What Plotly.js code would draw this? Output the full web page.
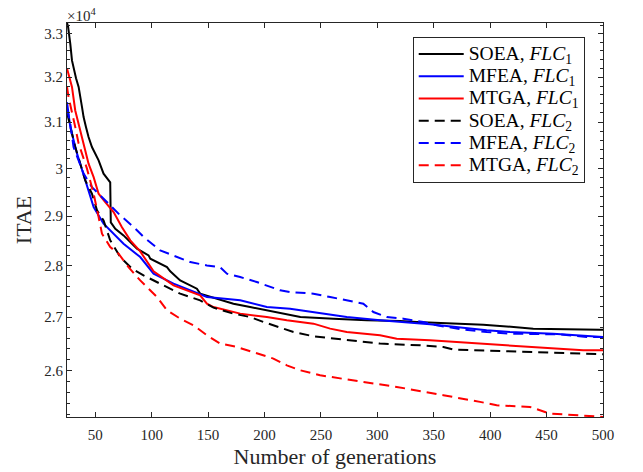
<!DOCTYPE html>
<html>
<head>
<meta charset="utf-8">
<script src="https://cdn.plot.ly/plotly-3.0.1.min.js"></script>
<style>html,body{margin:0;padding:0;background:#fff;}#chart{width:643px;height:472px;}</style>
</head>
<body>
<div id="chart"></div>
<script>
// ---- data ----
const seriesNames = ['SOEA, <i>FLC</i><sub>1</sub>', 'MFEA, <i>FLC</i><sub>1</sub>', 'MTGA, <i>FLC</i><sub>1</sub>',
                     'SOEA, <i>FLC</i><sub>2</sub>', 'MFEA, <i>FLC</i><sub>2</sub>', 'MTGA, <i>FLC</i><sub>2</sub>'];

const xSOEA1 = [25, 25.9, 27.9, 29.4, 33, 35.3, 38.3, 39.7, 41.8, 44.1, 47.1, 50.1, 53, 57.4, 61.8, 63.3, 63.8, 67.8, 75.1, 87, 97.3, 98.8, 113.6, 116.5, 125.3, 140.1, 143, 157.8, 172.5, 187.3, 202.1, 219.8, 231.8, 261.1, 290.7, 320.1, 334.9, 393.9, 438.2, 497.2, 500];
const ySOEA1 = [33253, 33175, 32769, 32384, 31975, 31780, 31330, 31109, 30890, 30672, 30456, 30313, 30170, 29887, 29744, 29702, 28873, 28743, 28608, 28339, 28205, 28139, 27972, 27888, 27710, 27548, 27451, 27354, 27257, 27191, 27128, 27065, 27000, 26969, 26937, 26924, 26905, 26855, 26779, 26760, 26760];

const xMFEA1 = [25, 27.9, 33.9, 38.3, 42.7, 48.6, 57.4, 66.3, 75.1, 89.9, 101.7, 119.4, 149, 178.5, 202.1, 222.7, 243.4, 272.9, 302.4, 346.7, 396.9, 417.5, 455.9, 500];
const yMFEA1 = [31440, 30890, 30313, 29957, 29603, 29187, 28846, 28642, 28440, 28172, 27842, 27645, 27386, 27321, 27191, 27160, 27096, 27000, 26937, 26861, 26747, 26715, 26684, 26621];

const xMTGA1 = [25, 29.4, 32.3, 36.8, 41.2, 44.1, 48.6, 53, 58.9, 66.3, 73.7, 81.1, 89.9, 101.7, 119.4, 143, 149, 154.8, 178.5, 202.1, 219.8, 243.4, 258.2, 272.9, 302.4, 317.2, 346.7, 393.9, 438.2, 482.5, 500];
const yMTGA1 = [32200, 31780, 31255, 30818, 30385, 30100, 29814, 29465, 29291, 29084, 28774, 28507, 28285, 27888, 27612, 27418, 27257, 27191, 27065, 27000, 26937, 26874, 26779, 26715, 26653, 26590, 26559, 26497, 26434, 26371, 26371];

const xSOEA2 = [25, 29.4, 32.3, 41.2, 47.1, 51.6, 57.4, 63.3, 72.2, 82.6, 92.8, 110.5, 125.3, 143, 154.8, 172.5, 187.3, 199.1, 213.9, 225.7, 243.4, 272.9, 302.4, 337.9, 358.5, 367.3, 411.6, 464.8, 500];
const ySOEA2 = [31210, 30781, 30456, 29744, 29465, 29119, 28914, 28507, 28172, 27942, 27810, 27612, 27451, 27321, 27180, 27065, 27000, 26905, 26798, 26715, 26634, 26559, 26497, 26465, 26434, 26386, 26353, 26322, 26297];

const xMFEA2 = [25, 27.9, 30.8, 39.7, 47.1, 60.4, 72.2, 84, 92.8, 107.6, 119.4, 134.2, 149, 160.7, 166.7, 178.5, 193.2, 213.9, 222.8, 243.4, 258.2, 272.9, 287.6, 296.5, 308.4, 323.1, 340.8, 352.6, 376.2, 396.9, 417.5, 461.8, 485.5, 500];
const yMFEA2 = [31300, 30968, 30456, 29887, 29603, 29291, 29016, 28780, 28578, 28305, 28205, 28072, 28006, 27972, 27842, 27776, 27678, 27515, 27483, 27451, 27386, 27321, 27257, 27096, 27000, 26969, 26905, 26843, 26761, 26715, 26684, 26671, 26621, 26621];

const xMTGA2 = [25, 26.4, 32.3, 35.3, 42.7, 48.6, 53, 56, 63.3, 70.7, 79.5, 89.9, 104.7, 113.6, 125.3, 137.1, 149, 160.7, 175.5, 190.2, 207.9, 219.8, 231.8, 249.3, 267.1, 293.6, 317.2, 343.8, 358.5, 391, 405.8, 435.3, 453, 479.4, 498.7, 500];
const yMTGA2 = [31780, 31554, 30890, 30531, 29993, 29465, 28982, 28642, 28372, 28239, 27972, 27710, 27386, 27128, 26969, 26843, 26653, 26497, 26434, 26340, 26217, 26092, 26000, 25908, 25848, 25768, 25696, 25605, 25545, 25425, 25364, 25334, 25214, 25184, 25154, 25154];

const xTickVals = [50, 100, 150, 200, 250, 300, 350, 400, 450, 500];
const yTickVals = [26000, 27000, 28000, 29000, 30000, 31000, 32000, 33000];
const yTickText = ['2.6', '2.7', '2.8', '2.9', '3', '3.1', '3.2', '3.3'];

// ---- chart ----
const yMinor = [];
for (let v = 25200; v <= 33200; v += 200) { if (v % 1000 !== 0) yMinor.push(v); }

const AX = '#262626';
const SERIF = '"Liberation Serif", "Times New Roman", serif';
const dashed = '10px,6px';
function tr(x, y, name, color, dash) {
  return {x: x, y: y, name: '<span style="font-size:19.5px">' + name + '</span>',
          type: 'scatter', mode: 'lines', line: {color: color, width: 2, dash: dash}};
}
const data = [
  tr(xSOEA1, ySOEA1, seriesNames[0], '#000000', 'solid'),
  tr(xMFEA1, yMFEA1, seriesNames[1], '#0000ff', 'solid'),
  tr(xMTGA1, yMTGA1, seriesNames[2], '#ff0000', 'solid'),
  tr(xSOEA2, ySOEA2, seriesNames[3], '#000000', dashed),
  tr(xMFEA2, yMFEA2, seriesNames[4], '#0000ff', dashed),
  tr(xMTGA2, yMTGA2, seriesNames[5], '#ff0000', dashed)
];

const layout = {
  width: 643, height: 472,
  margin: {l: 67, r: 40, t: 23, b: 55, pad: 0},
  paper_bgcolor: '#ffffff', plot_bgcolor: '#ffffff',
  font: {family: SERIF, color: AX, size: 15},
  showlegend: true,
  xaxis: {
    range: [25, 500], tickmode: 'array', tickvals: xTickVals,
    ticks: 'inside', ticklen: 5, tickwidth: 1, tickcolor: AX,
    showline: true, linecolor: AX, linewidth: 1, mirror: 'ticks',
    showgrid: false, zeroline: false,
    tickfont: {size: 15, color: AX, family: SERIF}, ticklabelstandoff: 4,
    title: {text: 'Number of generations', font: {size: 22, color: AX, family: SERIF}, standoff: 6}
  },
  yaxis: {
    type: 'log', range: [Math.log10(25154), Math.log10(33253)],
    tickmode: 'array', tickvals: yTickVals, ticktext: yTickText,
    ticks: 'inside', ticklen: 5, tickwidth: 1, tickcolor: AX,
    minor: {tickmode: 'array', tickvals: yMinor, ticks: 'inside', ticklen: 3, tickcolor: AX, showgrid: false},
    showline: true, linecolor: AX, linewidth: 1, mirror: 'ticks',
    showgrid: false, zeroline: false,
    tickfont: {size: 15, color: AX, family: SERIF},
    title: {text: 'ITAE', font: {size: 22, color: AX, family: SERIF}, standoff: 6}
  },
  legend: {
    x: 0.645, y: 0.9645, xanchor: 'left', yanchor: 'top',
    bgcolor: '#ffffff', bordercolor: AX, borderwidth: 1,
    font: {size: 14.8, color: '#000000', family: SERIF}, tracegroupgap: 0, itemwidth: 45
  },
  annotations: [{
    xref: 'paper', yref: 'paper', x: 0, y: 1, xanchor: 'left', yanchor: 'bottom',
    text: '×10<sup>4</sup>', showarrow: false, font: {size: 15, color: AX, family: SERIF}, xshift: -2, yshift: -3
  }]
};

Plotly.newPlot('chart', data, layout, {displayModeBar: false, staticPlot: true});
</script>
</body>
</html>
